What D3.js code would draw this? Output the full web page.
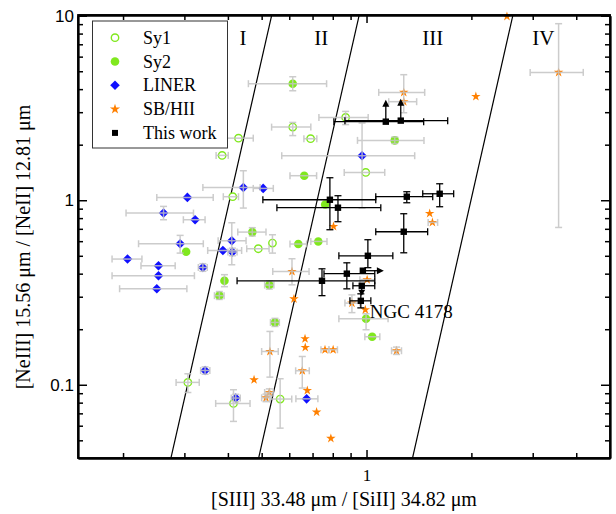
<!DOCTYPE html>
<html><head><meta charset="utf-8">
<script src="https://cdn.jsdelivr.net/npm/d3@7"></script>
<style>body{margin:0;background:#fff}</style>
</head><body>
<svg id="c" width="616" height="514"></svg>
<script>
// rows: [x, y, xlo, xhi, ylo, yhi]
const sy1 = [
  [0.385,1.75,0.370,0.401,null,null],
  [0.429,2.17,0.397,0.473,null,null],
  [0.413,1.045,0.388,0.429,null,null],
  [0.614,2.49,0.534,0.692,2.24,2.64],
  [0.871,2.81,0.730,1.011,2.57,3.03],
  [0.995,1.415,0.863,1.128,null,null],
  [0.691,2.155,0.661,0.720,null,null],
  [0.489,0.546,0.453,0.525,null,null],
  [0.537,0.586,null,null,0.517,0.650],
  [0.307,0.103,0.284,0.331,0.0908,0.1147],
  [0.415,0.0792,0.369,0.463,0.0633,0.094],
  [0.565,0.0837,0.528,0.610,0.0582,0.1078]
];
const sy2 = [
  [0.614,4.28,0.458,0.768,3.92,4.67],
  [0.6625,1.358,0.603,0.719,null,null],
  [1.205,2.11,0.942,1.462,2.03,2.2],
  [0.761,0.949,null,null,null,null],
  [0.637,0.579,0.603,0.673,null,null],
  [0.727,0.598,0.692,0.770,null,null],
  [0.470,0.672,0.427,0.5145,0.64,0.71],
  [0.3035,0.526,null,null,null,null],
  [0.391,0.366,null,null,0.340,0.395],
  [0.526,0.347,0.51,0.542,0.33,0.365],
  [0.378,0.304,0.366,0.39,0.29,0.32],
  [0.546,0.2177,0.53,0.562,0.207,0.229],
  [0.997,0.228,0.833,1.153,0.1987,0.2425],
  [1.038,0.182,0.989,1.092,null,null]
];
const liner = [
  [0.443,1.173,0.339,0.495,0.907,1.445],
  [0.505,1.159,0.473,0.540,null,null],
  [0.306,1.036,0.250,0.363,null,null],
  [0.2614,0.852,0.204,0.3186,0.784,0.926],
  [0.322,0.784,0.298,0.344,null,null],
  [0.2917,0.581,0.2216,0.340,0.517,0.645],
  [0.4104,0.603,0.375,0.451,0.447,0.755],
  [0.387,0.534,0.350,0.438,null,null],
  [0.412,0.524,0.40,0.425,0.50,0.55],
  [0.206,0.480,0.186,0.2266,null,null],
  [0.2528,0.4416,0.2252,0.2823,null,null],
  [0.2528,0.390,0.186,0.3206,null,null],
  [0.250,0.3315,0.1955,0.305,null,null],
  [0.339,0.4322,0.329,0.349,0.412,0.453],
  [0.344,0.1195,0.334,0.355,0.114,0.125],
  [0.4213,0.0847,0.409,0.434,0.0808,0.0888],
  [0.673,0.0839,0.627,0.725,null,null],
  [0.971,1.743,0.571,1.375,0.907,2.62]
];
const sbhii = [
  [2.53,9.91,null,null,null,null],
  [3.56,4.93,2.95,4.19,0.712,9.05],
  [2.06,3.65,null,null,null,null],
  [1.279,3.84,1.084,1.469,2.98,4.79],
  [1.279,3.42,1.158,1.393,null,null],
  [1.518,0.848,null,null,null,null],
  [1.546,0.758,1.503,1.60,null,null],
  [0.804,0.721,null,null,null,null],
  [0.611,0.411,0.538,0.684,0.348,0.482],
  [0.619,0.292,null,null,null,null],
  [1.004,0.371,0.957,1.056,null,null],
  [0.908,0.277,0.867,0.957,0.246,0.307],
  [0.992,0.255,null,null,null,null],
  [0.666,0.1776,null,null,null,null],
  [0.667,0.1593,null,null,null,null],
  [0.760,0.1548,0.74,0.78,null,null],
  [0.802,0.1548,0.78,0.825,null,null],
  [1.219,0.1529,1.18,1.26,0.146,0.160],
  [0.654,0.1191,0.626,0.685,0.096,0.1423],
  [0.676,0.0931,null,null,null,null],
  [0.719,0.0711,null,null,null,null],
  [0.790,0.0512,null,null,null,null],
  [0.528,0.1515,0.500,0.558,0.110,0.1945],
  [0.4755,0.1064,null,null,null,null],
  [0.526,0.0908,0.51,0.54,0.087,0.095],
  [0.5145,0.0850,0.50,0.53,0.081,0.089]
];
// this work: [x, y, xlo, xhi, ylo, yhi, limit]
const thisWork = [
  [1.136,2.665,0.806,1.459,null,null,"up"],
  [1.254,2.70,0.867,1.71,null,null,"up"],
  [0.785,1.006,0.504,1.063,0.692,1.324,null],
  [0.828,0.911,0.553,1.099,0.765,1.058,null],
  [1.305,1.045,1.063,1.549,0.969,1.112,null],
  [1.622,1.084,1.45,1.779,0.922,1.228,null],
  [1.279,0.675,1.063,1.498,0.519,0.845,null],
  [1.009,0.50,0.833,1.19,0.431,0.611,null],
  [0.878,0.40,0.755,1.056,0.331,0.458,null],
  [0.745,0.366,0.425,1.056,0.304,0.425,null],
  [0.976,0.415,null,null,null,null,"right"],
  [0.969,0.344,0.914,1.056,null,null,"down"],
  [0.963,0.285,0.896,1.029,0.261,0.311,null]
];
// dividing lines: [[x at bottom, y bottom], [x at top, y top]]
const divLines = [
  [[0.2744,0.04],[0.534,10]],
  [[0.490,0.04],[0.952,10]],
  [[1.355,0.04],[2.63,10]]
];
const regionNames = ["I","II","III","IV"];
const regionX = [0.442,0.741,1.549,3.22];
const regionY = 7.3;
const yTickLabels = [0.1,1,10];
const xTickLabels = [1];
const legendNames = ["Sy1","Sy2","LINER","SB/HII","This work"];
const annotation = {text:"NGC 4178", x:0.963, y:0.285};

const svg = d3.select("#c");
const L=78,R=610,T=15,B=458;
const x = d3.scaleLog().domain([0.1485,5]).range([L,R]);
const y = d3.scaleLog().domain([0.0401,10]).range([B,15.7]);
const GREEN="#80e81e", BLUE="#1010ff", ORANGE="#ff8000", GRAY="#c4c4c4";
const SERIF="'Liberation Serif', 'Times New Roman', serif";
const SANS="'Liberation Sans', Arial, sans-serif";

svg.append("defs").append("clipPath").attr("id","clip")
  .append("rect").attr("x",L).attr("y",T).attr("width",R-L).attr("height",B-T);
const lineLayer = svg.append("g").attr("clip-path","url(#clip)");
const plot = svg.append("g");

// dividing lines
lineLayer.selectAll("line.div").data(divLines).enter().append("line")
  .attr("x1",d=>x(d[0][0])).attr("y1",d=>y(d[0][1]))
  .attr("x2",d=>x(d[1][0])).attr("y2",d=>y(d[1][1]))
  .attr("stroke","#000").attr("stroke-width",1.2);

// markers
function drawMarkers(data, kind){
  const g = plot.append("g");
  data.forEach(d=>{
    const cx=x(d[0]), cy=y(d[1]);
    if(kind==="sy1"){
      g.append("circle").attr("cx",cx).attr("cy",cy).attr("r",3.7)
       .attr("fill","#fff").attr("stroke",GREEN).attr("stroke-width",1.4);
    } else if(kind==="sy2"){
      g.append("circle").attr("cx",cx).attr("cy",cy).attr("r",4.3).attr("fill",GREEN);
    } else if(kind==="liner"){
      g.append("path").attr("d",d3.symbol(d3.symbolSquare,46)())
       .attr("transform",`translate(${cx},${cy}) rotate(45)`).attr("fill",BLUE);
    } else if(kind==="sb"){
      g.append("path").attr("d",d3.symbol(d3.symbolStar,28)())
       .attr("transform",`translate(${cx},${cy})`).attr("fill",ORANGE);
    }
  });
}
function drawErr(data, color, width, cap, opacity){
  const g = plot.append("g").attr("stroke",color).attr("stroke-width",width).attr("opacity",opacity);
  data.forEach(d=>{
    const cx=x(d[0]), cy=y(d[1]);
    if(d[2]!=null){
      const a=x(d[2]), b=x(d[3]);
      g.append("line").attr("x1",a).attr("x2",b).attr("y1",cy).attr("y2",cy);
      g.append("line").attr("x1",a).attr("x2",a).attr("y1",cy-cap).attr("y2",cy+cap);
      g.append("line").attr("x1",b).attr("x2",b).attr("y1",cy-cap).attr("y2",cy+cap);
    }
    if(d[4]!=null){
      const a=y(d[4]), b=y(d[5]);
      g.append("line").attr("x1",cx).attr("x2",cx).attr("y1",a).attr("y2",b);
      g.append("line").attr("x1",cx-cap).attr("x2",cx+cap).attr("y1",a).attr("y2",a);
      g.append("line").attr("x1",cx-cap).attr("x2",cx+cap).attr("y1",b).attr("y2",b);
    }
  });
}
drawMarkers(sy1,"sy1");
drawMarkers(sy2,"sy2");
drawMarkers(liner,"liner");
drawMarkers(sbhii,"sb");
drawErr(sy1.concat(sy2,liner,sbhii), GRAY, 1.5, 3.5, 0.85);

// this work
drawErr(thisWork, "#000", 1.3, 3.5, 1);
const tw = plot.append("g");
thisWork.forEach(d=>{
  const cx=x(d[0]), cy=y(d[1]);
  if(d[6]==="up"){
    tw.append("line").attr("x1",cx).attr("x2",cx).attr("y1",cy).attr("y2",cy-16).attr("stroke","#000").attr("stroke-width",1.3);
    tw.append("path").attr("d",`M${cx-3.5},${cy-15}L${cx+3.5},${cy-15}L${cx},${cy-22}Z`).attr("fill","#000");
  } else if(d[6]==="right"){
    tw.append("line").attr("x1",cx).attr("x2",cx+15).attr("y1",cy).attr("y2",cy).attr("stroke","#000").attr("stroke-width",1.3);
    tw.append("path").attr("d",`M${cx+14},${cy-3.5}L${cx+14},${cy+3.5}L${cx+21},${cy}Z`).attr("fill","#000");
  } else if(d[6]==="down"){
    tw.append("line").attr("x1",cx).attr("x2",cx).attr("y1",cy).attr("y2",cy+5).attr("stroke","#000").attr("stroke-width",1.3);
    tw.append("path").attr("d",`M${cx-3.5},${cy+4}L${cx+3.5},${cy+4}L${cx},${cy+10}Z`).attr("fill","#000");
  }
  tw.append("rect").attr("x",cx-3.2).attr("y",cy-3.2).attr("width",6.4).attr("height",6.4).attr("fill","#000");
});

// annotation
svg.append("text").attr("x",x(annotation.x)+9).attr("y",y(annotation.y)+17)
  .style("font-family",SERIF).attr("font-size",19)
  .text(annotation.text);

// region labels
svg.selectAll("text.reg").data(regionNames).enter().append("text")
  .attr("x",(d,i)=>x(regionX[i])).attr("y",y(regionY)+4).attr("text-anchor","middle")
  .style("font-family",SERIF).attr("font-size",21)
  .text(d=>d);

// axes
function range(a,b){const r=[];for(let i=a;i<=b;i++)r.push(i);return r;}
const yMinor = [0.05,0.06,0.07,0.08,0.09].concat(range(2,9).map(v=>v/10), range(2,9));
const yMajor = yTickLabels;
const xMinor = [0.2,0.3,0.4,0.5,0.6,0.7,0.8,0.9,2,3,4];
const xMajor = xTickLabels;
const ax = svg.append("g");
function addAxis(axisFn, scale, vals, size, labels, transform){
  const a = axisFn(scale).tickValues(vals).tickSizeInner(-size).tickSizeOuter(0)
     .tickFormat(labels?(d=>String(d)):(()=>""));
  const g = ax.append("g").attr("transform",transform).call(a);
  g.selectAll("line").attr("stroke","#000").attr("stroke-width",1.5);
  g.select(".domain").attr("stroke","#000").attr("stroke-width",1.8);
  return g;
}
const gl = addAxis(d3.axisLeft, y, yMajor, 9, true, `translate(${L},0)`);
gl.selectAll("text").style("font-family",SANS).style("font-size","17px").attr("dx",-1);
addAxis(d3.axisLeft, y, yMinor, 5, false, `translate(${L},0)`);
addAxis(d3.axisRight, y, yMajor, 9, false, `translate(${R},0)`);
addAxis(d3.axisRight, y, yMinor, 5, false, `translate(${R},0)`);
const gb = addAxis(d3.axisBottom, x, xMajor, 8, true, `translate(0,${B})`);
gb.selectAll("text").style("font-family",SERIF).style("font-size","17px").attr("dy","1.2em");
addAxis(d3.axisBottom, x, xMinor, 5, false, `translate(0,${B})`);
addAxis(d3.axisTop, x, xMajor, 8, false, `translate(0,${T})`);
addAxis(d3.axisTop, x, xMinor, 5, false, `translate(0,${T})`);
// frame
svg.append("rect").attr("x",L).attr("y",T).attr("width",R-L).attr("height",B-T)
  .attr("fill","none").attr("stroke","#000").attr("stroke-width",1.8);

// axis titles
svg.append("text").attr("x",344).attr("y",506).attr("text-anchor","middle")
  .style("font-family",SERIF).attr("font-size",20)
  .text("[SIII] 33.48 μm / [SiII] 34.82 μm");
svg.append("text").attr("transform","translate(30,247) rotate(-90)").attr("text-anchor","middle")
  .style("font-family",SERIF).attr("font-size",20)
  .text("[NeIII] 15.56 μm / [NeII] 12.81 μm");

// legend
const lg = svg.append("g");
lg.append("rect").attr("x",92.5).attr("y",21).attr("width",135).attr("height",127)
  .attr("fill","#fff").attr("stroke","#333").attr("stroke-width",1);
legendNames.forEach((name,i)=>{
  const cy = 37.7 + i*23.8, cx = 115;
  if(i===0) lg.append("circle").attr("cx",cx).attr("cy",cy).attr("r",3.7).attr("fill","#fff").attr("stroke",GREEN).attr("stroke-width",1.4);
  if(i===1) lg.append("circle").attr("cx",cx).attr("cy",cy).attr("r",4.3).attr("fill",GREEN);
  if(i===2) lg.append("path").attr("d",d3.symbol(d3.symbolSquare,46)()).attr("transform",`translate(${cx},${cy}) rotate(45)`).attr("fill",BLUE);
  if(i===3) lg.append("path").attr("d",d3.symbol(d3.symbolStar,32)()).attr("transform",`translate(${cx},${cy})`).attr("fill",ORANGE);
  if(i===4) lg.append("rect").attr("x",cx-3).attr("y",cy-3).attr("width",6).attr("height",6).attr("fill","#000");
  lg.append("text").attr("x",143).attr("y",cy+6).style("font-family",SERIF)
    .attr("font-size",18).text(name);
});
</script>
</body></html>
